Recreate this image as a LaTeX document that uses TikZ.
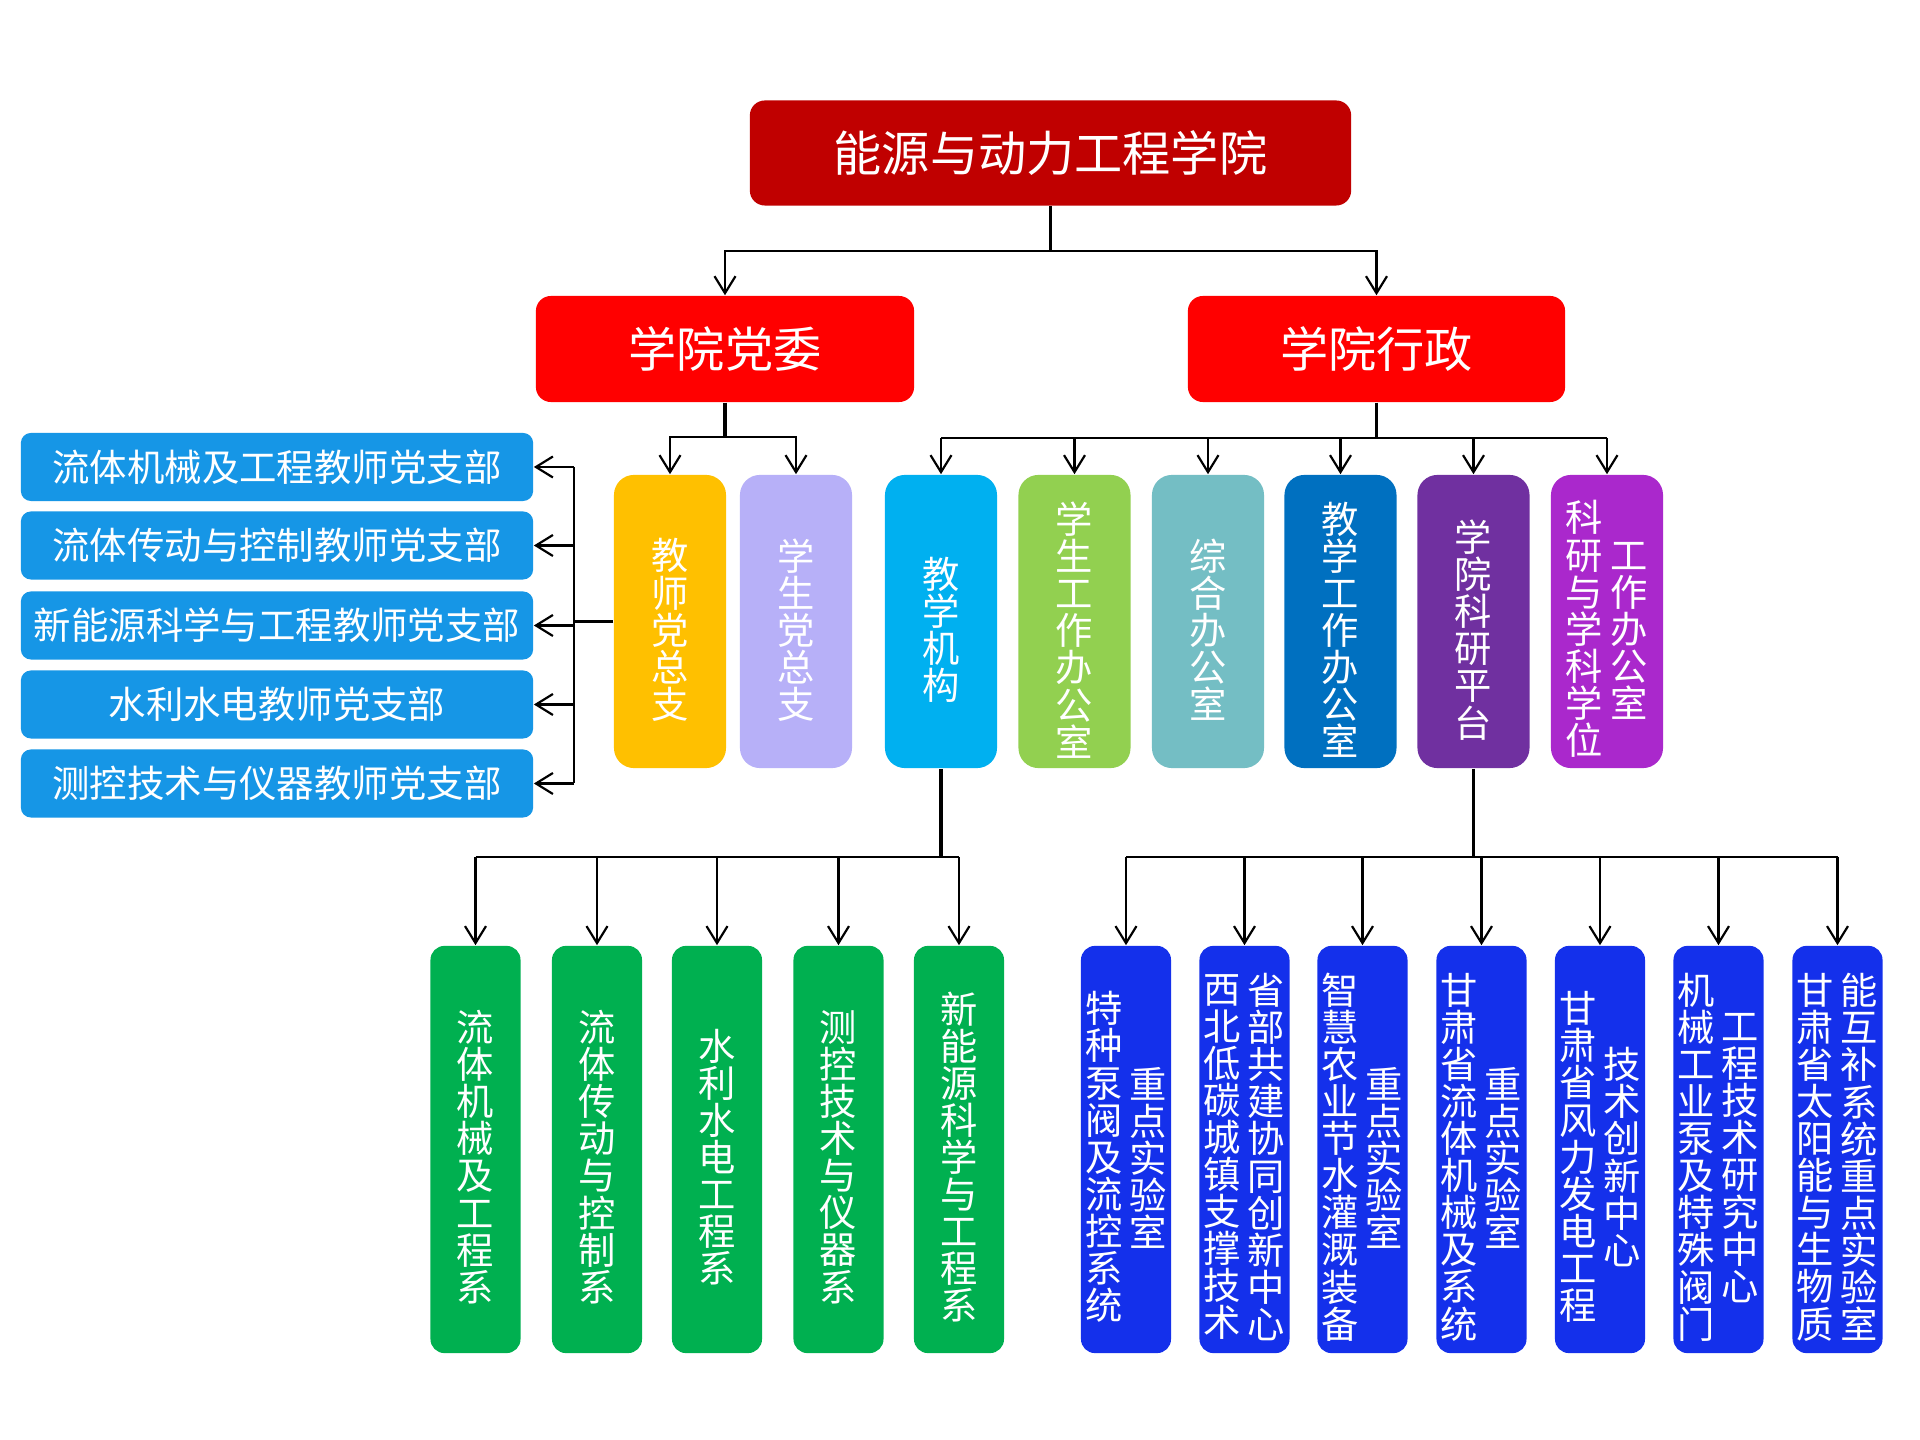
\documentclass[tikz,border=0pt]{standalone}
\usepackage{fontspec}
\newfontfamily\cjk{Noto Sans CJK SC}
\usetikzlibrary{arrows.meta}
\definecolor{toprd}{HTML}{C00000}
\definecolor{midrd}{HTML}{FF0000}
\definecolor{brblue}{HTML}{1696E6}
\definecolor{cjszz}{HTML}{FFC000}
\definecolor{cxszz}{HTML}{B7B0F8}
\definecolor{cjxjg}{HTML}{00B0F0}
\definecolor{cxsgz}{HTML}{92D050}
\definecolor{czhbg}{HTML}{74BEC4}
\definecolor{cjxgz}{HTML}{0070C0}
\definecolor{ckypt}{HTML}{7030A0}
\definecolor{ckyxk}{HTML}{AA28CC}
\definecolor{cgreen}{HTML}{00B050}
\definecolor{cblue}{HTML}{1430EB}
\tikzset{
  hbox/.style={rectangle, rounded corners=0.15cm, inner sep=0pt, text=white, draw=none},
  vbox/.style={rectangle, rounded corners=0.2cm, inner sep=0pt, draw=none, minimum width=1.12cm, minimum height=2.93cm},
  lbox/.style={rectangle, rounded corners=0.14cm, inner sep=0pt, draw=none, minimum width=0.9cm, minimum height=4.07cm},
  vtext/.style={align=center, inner sep=0pt, text=white, font=\cjk\fontsize{10.6pt}{10.55pt}\selectfont},
  conn/.style={line width=0.8pt, black},
  stem/.style={line width=0.9pt, black},
  arr/.style={line width=0.62pt, black, -{Straight Barb[length=0.17cm,width=0.21cm,line width=0.62pt]}}
}
\begin{document}
\begin{tikzpicture}[x=0.01cm,y=-0.01cm]
\fill[white] (0,0) rectangle (1920,1440);
\useasboundingbox (0,0) rectangle (1920,1440);

% top level
\node[hbox, fill=toprd, minimum width=6.01cm, minimum height=1.05cm, font=\cjk\fontsize{13.7pt}{14pt}\selectfont] (root) at (1050.5,153) {能源与动力工程学院};
\node[hbox, fill=midrd, minimum width=3.78cm, minimum height=1.06cm, font=\cjk\fontsize{13.7pt}{14pt}\selectfont] (dw) at (725,349) {学院党委};
\node[hbox, fill=midrd, minimum width=3.77cm, minimum height=1.06cm, font=\cjk\fontsize{13.7pt}{14pt}\selectfont] (xz) at (1376.5,349) {学院行政};

% left party branches
\tikzset{brstyle/.style={hbox, fill=brblue, rounded corners=0.1cm, minimum width=5.12cm, minimum height=0.68cm, font=\cjk\fontsize{10.64pt}{11pt}\selectfont}}
\node[brstyle] (L1) at (277,467) {流体机械及工程教师党支部};
\node[brstyle] (L2) at (277,545.5) {流体传动与控制教师党支部};
\node[brstyle] (L3) at (277,625.5) {新能源科学与工程教师党支部};
\node[brstyle] (L4) at (277,704.5) {水利水电教师党支部};
\node[brstyle] (L5) at (277,783.5) {测控技术与仪器教师党支部};

% middle row boxes
\node[vbox, fill=cjszz] (jszz) at (670,621.5) {};
\node[vbox, fill=cxszz] (xszz) at (796,621.5) {};
\node[vbox, fill=cjxjg] (jxjg) at (941,621.5) {};
\node[vbox, fill=cxsgz] (xsgz) at (1074.5,621.5) {};
\node[vbox, fill=czhbg] (zhbg) at (1208,621.5) {};
\node[vbox, fill=cjxgz] (jxgz) at (1340.5,621.5) {};
\node[vbox, fill=ckypt] (kypt) at (1473.5,621.5) {};
\node[vbox, fill=ckyxk] (kyxk) at (1607,621.5) {};

\node[vtext] (tjszz) at (670,630) {教\\师\\党\\总\\支};
\node[vtext] (txszz) at (796,630) {学\\生\\党\\总\\支};
\node[vtext] (tjxjg) at (941,630) {教\\学\\机\\构};
\node[vtext] (txsgz) at (1074.5,630) {学\\生\\工\\作\\办\\公\\室};
\node[vtext] (tzhbg) at (1208,630) {综\\合\\办\\公\\室};
\node[vtext] (tjxgz) at (1340.5,630) {教\\学\\工\\作\\办\\公\\室};
\node[vtext] (tkypt) at (1473.5,630) {学\\院\\科\\研\\平\\台};
\node[vtext] (tkyxka) at (1584,629) {科\\研\\与\\学\\科\\学\\位};
\node[vtext] (tkyxkb) at (1629,631) {工\\作\\办\\公\\室};

% bottom green
\node[lbox, fill=cgreen] (g1) at (475.5,1149.5) {};
\node[lbox, fill=cgreen] (g2) at (597,1149.5) {};
\node[lbox, fill=cgreen] (g3) at (717,1149.5) {};
\node[lbox, fill=cgreen] (g4) at (838.5,1149.5) {};
\node[lbox, fill=cgreen] (g5) at (959,1149.5) {};
\node[vtext] (tg1) at (475.5,1157) {流\\体\\机\\械\\及\\工\\程\\系};
\node[vtext] (tg2) at (597,1157) {流\\体\\传\\动\\与\\控\\制\\系};
\node[vtext] (tg3) at (717,1157) {水\\利\\水\\电\\工\\程\\系};
\node[vtext] (tg4) at (838.5,1157) {测\\控\\技\\术\\与\\仪\\器\\系};
\node[vtext] (tg5) at (959,1157) {新\\能\\源\\科\\学\\与\\工\\程\\系};

% bottom blue
\node[lbox, fill=cblue] (u1) at (1126,1149.5) {};
\node[lbox, fill=cblue] (u2) at (1244.5,1149.5) {};
\node[lbox, fill=cblue] (u3) at (1362.5,1149.5) {};
\node[lbox, fill=cblue] (u4) at (1481.5,1149.5) {};
\node[lbox, fill=cblue] (u5) at (1600,1149.5) {};
\node[lbox, fill=cblue] (u6) at (1718.5,1149.5) {};
\node[lbox, fill=cblue] (u7) at (1837.5,1149.5) {};

\node[vtext] (tu1a) at (1104,1157) {特\\种\\泵\\阀\\及\\流\\控\\系\\统};
\node[vtext] (tu1b) at (1148,1158) {重\\点\\实\\验\\室};
\node[vtext] (tu2a) at (1222.5,1157) {西\\北\\低\\碳\\城\\镇\\支\\撑\\技\\术};
\node[vtext] (tu2b) at (1266.5,1157) {省\\部\\共\\建\\协\\同\\创\\新\\中\\心};
\node[vtext] (tu3a) at (1340.5,1157) {智\\慧\\农\\业\\节\\水\\灌\\溉\\装\\备};
\node[vtext] (tu3b) at (1384.5,1158) {重\\点\\实\\验\\室};
\node[vtext] (tu4a) at (1459.5,1157) {甘\\肃\\省\\流\\体\\机\\械\\及\\系\\统};
\node[vtext] (tu4b) at (1503.5,1158) {重\\点\\实\\验\\室};
\node[vtext] (tu5a) at (1578,1157) {甘\\肃\\省\\风\\力\\发\\电\\工\\程};
\node[vtext] (tu5b) at (1622,1157) {技\\术\\创\\新\\中\\心};
\node[vtext] (tu6a) at (1696.5,1157) {机\\械\\工\\业\\泵\\及\\特\\殊\\阀\\门};
\node[vtext] (tu6b) at (1740.5,1158) {工\\程\\技\\术\\研\\究\\中\\心};
\node[vtext] (tu7a) at (1815.5,1157) {甘\\肃\\省\\太\\阳\\能\\与\\生\\物\\质};
\node[vtext] (tu7b) at (1859.5,1157) {能\\互\\补\\系\\统\\重\\点\\实\\验\\室};

% connectors: root
\coordinate (b1) at (1050.5,251);
\draw[stem] (root.south) -- (b1);
\draw[arr] (b1) -| (dw.north);
\draw[arr] (b1) -| (xz.north);

% party committee
\coordinate (b2) at (725,437);
\draw[stem] (dw.south) -- (b2);
\draw[arr] (b2) -| (jszz.north);
\draw[arr] (b2) -| (xszz.north);

% left branches
\coordinate (lb) at (574,0);
\draw[line width=1pt] (jszz.west) -- (jszz.west -| lb);
\draw[conn] (L1.east -| lb) -- (L5.east -| lb);
\foreach \n in {L1,L2,L3,L4,L5} {\draw[arr] (\n.east -| lb) -- (\n.east);}

% administration
\coordinate (b3) at (1376.5,438);
\draw[stem] (xz.south) -- (b3);
\draw[conn] (jxjg.north |- b3) -- (kyxk.north |- b3);
\foreach \n in {jxjg,xsgz,zhbg,jxgz,kypt,kyxk} {\draw[arr] (\n.north |- b3) -- (\n.north);}

% teaching -> departments
\coordinate (b4) at (941,857);
\draw[stem] (jxjg.south) -- (b4);
\draw[conn] (g1.north |- b4) -- (g5.north |- b4);
\foreach \n in {g1,g2,g3,g4,g5} {\draw[arr] (\n.north |- b4) -- (\n.north);}

% research platform -> labs
\coordinate (b5) at (1473.5,857);
\draw[stem] (kypt.south) -- (b5);
\draw[conn] (u1.north |- b5) -- (u7.north |- b5);
\foreach \n in {u1,u2,u3,u4,u5,u6,u7} {\draw[arr] (\n.north |- b5) -- (\n.north);}
\end{tikzpicture}
\end{document}
